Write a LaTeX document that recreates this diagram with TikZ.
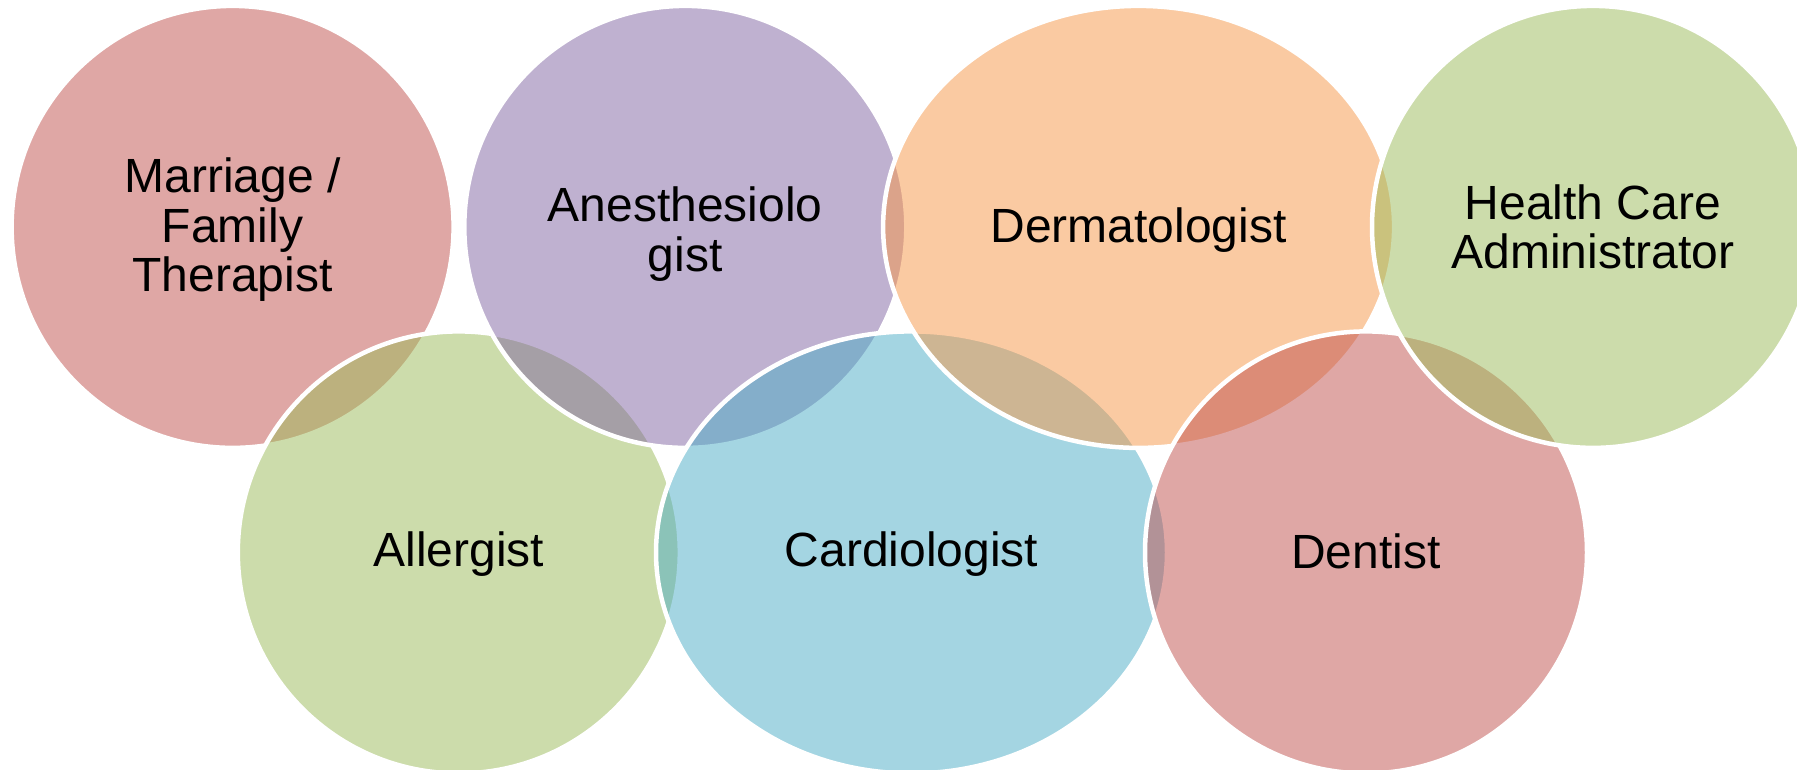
\documentclass[tikz,border=0pt]{standalone}
\usepackage{fontspec}
\setmainfont{Liberation Sans}
\definecolor{accRed}{HTML}{C0504D}
\definecolor{accGreen}{HTML}{9BBB59}
\definecolor{accPurple}{HTML}{8064A2}
\definecolor{accBlue}{HTML}{4BACC6}
\definecolor{accOrange}{HTML}{F79646}
\begin{document}
\begin{tikzpicture}[x=1pt,y=-1pt,
  venn/.style={fill opacity=0.5, draw=white, line width=4.5pt},
  lbl/.style={text=black, align=center, inner sep=0pt, anchor=center,
              font=\fontsize{48}{49.5}\selectfont}]
\clip (0,0) rectangle (1797,770);
\fill[white] (0,0) rectangle (1797,770);
% drawing order as in the reference
\filldraw[venn, fill=accRed]    (232.6,226.9) circle (221);
\filldraw[venn, fill=accGreen]  (458.8,552.4) circle (221);
\filldraw[venn, fill=accPurple] (685.3,226.9) circle (221);
\filldraw[venn, fill=accBlue]   (911.5,552.4) ellipse [x radius=255.5, y radius=221];
\filldraw[venn, fill=accOrange] (1138.6,226.9) ellipse [x radius=255.5, y radius=221];
\filldraw[venn, fill=accRed]    (1366,552.4) circle (221);
\filldraw[venn, fill=accGreen]  (1593,226.9) circle (221);
% labels
\node[lbl] (marriage) at (232.6,229.9) {Marriage /\\Family\\Therapist};
\node[lbl] (anesth)   at (685.3,233.9) {Anesthesiolo\\gist};
\node[lbl] (derma)    at (1138.6,229.9) {Dermatologist};
\node[lbl] (health)   at (1593,226.9) {Health Care\\Administrator};
\node[lbl] (allerg)   at (458.8,554.4) {Allergist};
\node[lbl] (cardio)   at (911.5,554.4) {Cardiologist};
\node[lbl] (dentist)  at (1366,551.4) {Dentist};
\end{tikzpicture}
\end{document}
